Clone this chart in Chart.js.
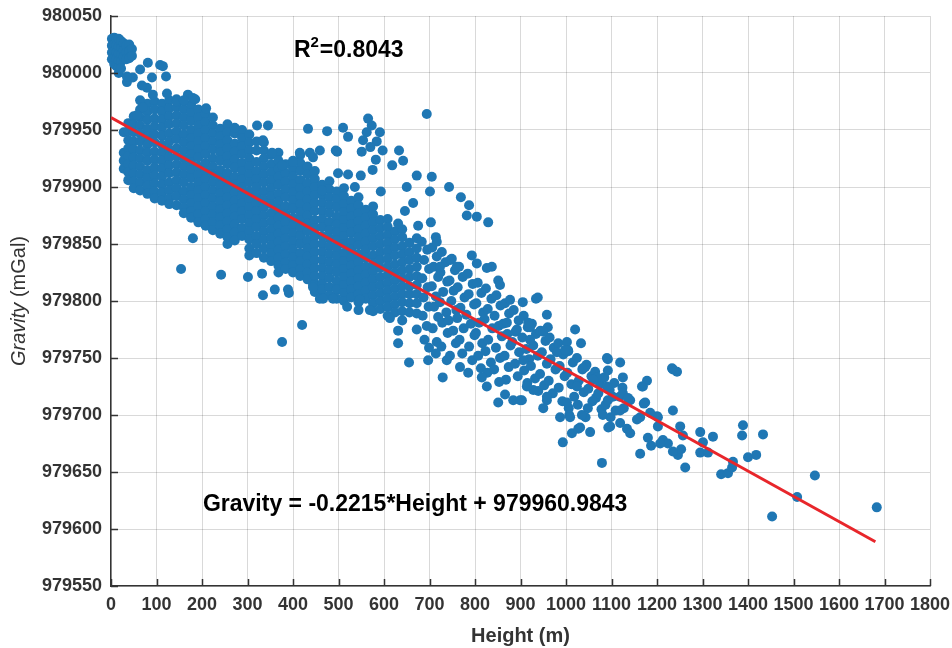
<!DOCTYPE html>
<html><head><meta charset="utf-8">
<style>html,body{margin:0;padding:0;background:#fff}#wrap{width:952px;height:648px}</style>
<script src="https://cdn.jsdelivr.net/npm/chart.js@4.4.0/dist/chart.umd.min.js"></script>
</head><body><div id="wrap"><canvas id="c" width="952" height="648"></canvas></div>
<script>
// ---- tick labels ----
const xTickValues = [0,100,200,300,400,500,600,700,800,900,1000,1100,1200,1300,1400,1500,1600,1700,1800];
const yTickValues = [979550,979600,979650,979700,979750,979800,979850,979900,979950,980000,980050];

// ---- texts ----
const xTitle = 'Height (m)';
const yTitleItalic = 'Gravity';
const yTitleRest = ' (mGal)';
const r2Text = '0.8043';
const equationText = 'Gravity = -0.2215*Height + 979960.9843';

// ---- fitted line (end points, Height m / Gravity mGal) ----
const fitLine = [[0, 979960.98], [1680, 979588.86]];

// ---- observed points: rows are [height, gravity, gravity, ...] ----
const topCluster = [
 [2,980030,980024,980018,980012],
 [7,980031,980025,980019,980013,980008],
 [12,980030,980024,980018,980012,980006],
 [17,980030,980023,980017,980011,980005,980000],
 [22,980028,980022,980016,980010,980004],
 [28,980026,980020,980014],
 [34,980024,980018,980012],
 [40,980025,980019,980013],
 [46,980021,980015]
];
const bandWest = [
 [28,979948,979930,979923,979916],
 [38,979956,979949,979941,979934,979927,979920,979913,979906],
 [50,979962,979955,979948,979940,979933,979926,979919,979912,979905,979899],
 [64,979968,979961,979954,979947,979940,979932,979925,979918,979911,979904,979897],
 [80,979973,979966,979959,979951,979944,979937,979930,979923,979915,979908,979901,979894],
 [96,979975,979968,979960,979953,979946,979939,979931,979924,979917,979910,979903,979896,979890],
 [112,979973,979966,979959,979952,979945,979937,979930,979923,979916,979909,979902,979895,979888],
 [128,979976,979969,979962,979955,979947,979940,979933,979926,979919,979912,979904,979897,979890,979885],
 [144,979977,979970,979963,979956,979949,979942,979934,979927,979920,979913,979906,979899,979892,979884],
 [160,979975,979968,979961,979954,979946,979939,979932,979925,979918,979911,979904,979896,979889,979882,979877],
 [176,979972,979965,979958,979950,979943,979936,979929,979922,979915,979908,979900,979893,979886,979879,979873],
 [192,979968,979961,979954,979947,979940,979933,979926,979918,979911,979904,979897,979890,979883,979876,979869]
];
const bandMid = [
 [208,979964,979957,979950,979943,979936,979929,979921,979914,979907,979900,979893,979886,979879,979872,979866],
 [224,979961,979954,979947,979940,979933,979925,979918,979911,979904,979897,979890,979883,979876,979869,979862],
 [240,979951,979944,979937,979930,979923,979915,979908,979901,979894,979887,979880,979873,979866,979859],
 [256,979955,979948,979941,979934,979927,979920,979912,979905,979898,979891,979884,979877,979870,979863,979856,979850],
 [272,979947,979938,979931,979924,979917,979909,979902,979895,979888,979881,979874,979867,979860,979853],
 [288,979950,979943,979936,979929,979921,979914,979907,979900,979893,979886,979879,979872,979864,979857],
 [304,979946,979939,979932,979925,979918,979911,979904,979896,979889,979882,979875,979868,979861,979854,979846,979840],
 [320,979940,979932,979922,979914,979907,979900,979893,979886,979879,979872,979865,979857,979850,979842],
 [336,979939,979932,979925,979918,979911,979904,979896,979889,979882,979875,979868,979861,979854,979846,979838],
 [352,979928,979920,979913,979906,979899,979892,979885,979877,979870,979863,979856,979849,979842,979835],
 [368,979930,979923,979916,979909,979902,979894,979887,979880,979873,979866,979859,979852,979845,979838,979831,979825],
 [384,979920,979912,979905,979898,979891,979883,979876,979869,979862,979855,979848,979841,979834,979828],
 [400,979923,979916,979909,979902,979895,979888,979881,979873,979866,979859,979852,979845,979838,979831,979825]
];
const bandEast = [
 [416,979928,979921,979914,979906,979899,979892,979885,979878,979871,979864,979857,979850,979842,979835,979828,979822],
 [432,979918,979911,979903,979896,979889,979882,979875,979868,979861,979853,979846,979839,979832,979825,979819],
 [448,979914,979907,979900,979893,979886,979879,979871,979864,979857,979850,979843,979836,979829,979822,979815,979808],
 [464,979902,979893,979886,979879,979872,979865,979857,979850,979843,979836,979829,979822,979815,979810],
 [480,979905,979898,979891,979884,979877,979869,979862,979855,979848,979841,979834,979827,979820,979812,979805],
 [496,979896,979889,979882,979874,979867,979860,979853,979846,979839,979832,979825,979817,979810,979802],
 [512,979899,979892,979885,979878,979871,979864,979857,979850,979842,979835,979828,979821,979814,979807,979800],
 [528,979888,979881,979874,979867,979860,979852,979845,979838,979831,979824,979817,979810,979803],
 [544,979891,979884,979877,979870,979863,979856,979849,979841,979834,979827,979820,979813,979806,979799,979792],
 [560,979880,979873,979866,979859,979852,979845,979838,979830,979823,979816,979809,979802],
 [576,979883,979876,979869,979862,979855,979848,979840,979833,979826,979819,979812,979805,979798,979791],
 [592,979871,979864,979857,979850,979843,979836,979829,979821,979814,979807,979800,979793],
 [608,979872,979865,979858,979851,979844,979837,979830,979823,979816,979809,979802,979795,979787],
 [624,979861,979854,979847,979840,979832,979825,979818,979811,979804,979797,979790],
 [640,979863,979856,979848,979841,979834,979827,979820,979813,979806,979799,979791,979783],
 [656,979851,979843,979836,979828,979821,979813,979806,979798,979790],
 [672,979855,979846,979838,979830,979822,979814,979806,979798,979789]
];
// ---- observed points: [height, gravity] pairs ----
const bandLow = [
 [683,979852],[695,979845],[688,979836],[699,979828],[684,979820],[696,979812],[687,979803],[698,979795],[685,979787],[694,979778],[689,979766],
 [706,979847],[716,979839],[709,979830],[719,979821],[705,979813],[714,979804],[710,979795],[719,979786],[707,979776],[716,979764],
 [727,979843],[735,979834],[724,979825],[739,979817],[730,979808],[723,979799],[737,979790],[728,979781],[740,979772],[726,979760],
 [746,979836],[756,979827],[744,979818],[753,979809],[748,979800],[759,979792],[742,979783],[752,979774],[758,979763],[745,979752],
 [765,979830],[773,979821],[762,979812],[777,979803],[768,979794],[761,979785],[775,979776],[766,979766],[772,979754],
 [784,979824],[795,979815],[786,979806],[798,979797],[781,979788],[791,979780],[799,979770],[787,979760],[794,979748],
 [806,979816],[814,979807],[803,979798],[818,979790],[809,979781],[802,979772],[816,979763],[807,979752],[813,979741],
 [824,979811],[836,979802],[828,979793],[821,979784],[838,979776],[829,979766],[823,979756],[835,979746],[827,979737],
 [847,979805],[856,979796],[843,979787],[852,979778],[859,979769],[846,979759],[855,979750],[842,979740],
 [866,979798],[875,979789],[862,979780],[871,979771],[878,979761],[865,979752],[874,979742],[868,979731],
 [885,979792],[896,979783],[889,979773],[882,979764],[897,979755],[888,979745],[894,979734],
 [907,979787],[916,979777],[904,979768],[913,979758],[919,979749],[908,979739],[915,979728],
 [925,979780],[934,979771],[928,979761],[938,979752],[923,979743],[932,979732],[939,979721],
 [944,979774],[955,979765],[947,979755],[958,979745],[943,979736],[952,979726],
 [964,979768],[973,979759],[966,979749],[977,979740],[962,979730],[971,979719],
 [983,979763],[994,979753],[986,979743],[997,979734],[984,979724],[992,979712],
 [1005,979756],[1015,979746],[1003,979737],[1012,979727],[1018,979716],[1006,979706],
 [1024,979750],[1036,979740],[1028,979730],[1039,979720],[1026,979709],
 [1045,979744],[1056,979734],[1049,979723],[1058,979712],[1043,979698],
 [1064,979738],[1075,979727],[1066,979715],[1078,979705],
 [1084,979733],[1096,979722],[1087,979709],[1098,979698],
 [1106,979728],[1118,979716],[1109,979704],[1124,979724],[1127,979706]
];
const upperScatter = [
 [35,979992],[48,979996],[35,979997],[64,980003],[81,980009],[108,980007],[114,980006],[121,979997],
 [90,979996],[79,979987],[92,979981],[68,979989],[64,979976],[70,979970],[57,979963],[123,979982],
 [169,979981],[180,979978],[185,979977],[209,979969],[145,979975],[160,979976]
];
const midScatter = [
 [272,979952],[321,979954],[345,979954],[433,979951],[475,979949],[510,979952],[521,979944],[497,979931],
 [499,979912],[521,979911],[464,979897],[415,979930],[437,979930],[400,979922],[376,979919],[354,979930],
 [334,979941],[444,979926],[459,979932],[494,979932],[549,979910],[536,979900],[593,979896],
 [565,979960],[573,979954],[591,979948],[562,979948],[554,979941],[584,979940],[597,979932],[551,979931],
 [582,979924],[570,979935],[575,979915],[633,979932],[618,979919],[642,979923],[694,979964],
 [650,979900],[672,979910],[705,979909],[701,979896],[664,979886],[646,979879],[743,979900],[769,979891],
 [787,979884],[782,979875],[804,979874],[829,979869],
 [631,979868],[675,979866],[703,979869],[714,979856],[716,979852],[749,979837],[793,979840],[804,979833],
 [837,979830],[826,979829],[760,979830],[723,979830],[851,979818],[855,979814],[877,979801],[905,979799],
 [934,979802],[938,979803],[958,979788],[960,979777],[1020,979775],[870,979781],[892,979775],[921,979777],
 [921,979766],[917,979781],[950,979773],[1033,979763],[1002,979764],[980,979755],[1004,979757],[998,979757]
];
const lowerScatter = [
 [180,979855],[154,979828],[242,979823],[301,979821],[332,979824],[334,979805],[360,979810],[389,979810],
 [391,979807],[420,979779],[376,979764],[444,979814],[459,979802],
 [444,979812],[466,979802],[488,979802],[519,979795],[569,979792],[547,979801],[613,979785],[631,979774],
 [631,979763],[655,979746],[697,979748],[714,979754],[729,979733],[738,979748],[767,979742],[785,979737],
 [815,979733],[826,979725],[853,979729],[851,979711],[884,979713],[899,979713],[866,979718],[928,979722],
 [958,979713],[950,979706],[1002,979711],[1007,979700],[987,979698],[906,979748],[914,979725],[903,979713],
 [958,979716],[699,979759],[672,979775]
];
const tailPoints = [
 [1092,979749],[1119,979746],[1125,979733],[1092,979739],[1068,979733],[1042,979742],[1090,979725],[1103,979716],
 [1141,979713],[1169,979725],[1178,979730],[1235,979740],[1244,979738],[1171,979710],[1235,979704],[1200,979699],
 [1202,979690],[1251,979690],[1257,979682],[1295,979685],[1323,979681],[1389,979691],[1387,979682],[1433,979683],
 [1301,979676],[1213,979678],[1224,979675],[1207,979675],[1187,979673],[1180,979680],[1163,979666],[1246,979665],
 [1253,979670],[1235,979668],[1295,979667],[1312,979667],[1262,979654],[1079,979658],[1341,979648],[1356,979649],
 [1365,979654],[1367,979659],[1400,979663],[1418,979665],[1453,979611],[1508,979628],[1547,979647],[1683,979619],
 [993,979676],[1013,979684],[1027,979688],[1031,979689],[1053,979685],[1093,979689],[1119,979693],[1134,979688],
 [1141,979684],[1163,979698],[1202,979698],[1048,979706],[1009,979698],[1035,979700],[1081,979700],[1097,979690],
 [1092,979713],[1125,979719],[1136,979715],[1156,979696],[1174,979711],[1185,979702],[1119,979704],[1167,979725],
 [1037,979741],[1024,979725],[1060,979731],[1071,979719],[1090,979750],[1233,979741]
];

// ---- build Chart.js data ----
function fromRows(rows){const out=[];rows.forEach(r=>{for(let i=1;i<r.length;i++)out.push({x:r[0],y:r[i]});});return out;}
function fromPairs(a){return a.map(p=>({x:p[0],y:p[1]}));}
const observed = [].concat(
  fromRows(topCluster),fromRows(bandWest),fromRows(bandMid),fromRows(bandEast),fromPairs(bandLow),
  fromPairs(upperScatter),fromPairs(midScatter),fromPairs(lowerScatter),fromPairs(tailPoints));

const FONT = '"Liberation Sans", Arial, Helvetica, sans-serif';
const TXT = '#333333';

const decorPlugin = {
  id:'decor',
  afterDraw(chart){
    const ctx=chart.ctx, a=chart.chartArea, xs=chart.scales.x, ys=chart.scales.y;
    ctx.save();
    ctx.strokeStyle=TXT; ctx.lineWidth=1.5;
    ctx.beginPath();
    xTickValues.forEach(v=>{const p=Math.round(xs.getPixelForValue(v))+0.5;ctx.moveTo(p,a.bottom);ctx.lineTo(p,a.bottom-7);});
    yTickValues.forEach(v=>{const p=Math.round(ys.getPixelForValue(v))+0.5;ctx.moveTo(a.left,p);ctx.lineTo(a.left+7,p);});
    ctx.stroke();
    ctx.fillStyle=TXT; ctx.textBaseline='middle';
    ctx.translate(19,(a.top+a.bottom)/2);
    ctx.rotate(-Math.PI/2);
    ctx.font='italic 20px '+FONT; const w1=ctx.measureText(yTitleItalic).width;
    ctx.font='20px '+FONT; const w2=ctx.measureText(yTitleRest).width;
    let sx=-(w1+w2)/2;
    ctx.textAlign='left';
    ctx.font='italic 20px '+FONT; ctx.fillText(yTitleItalic,sx,0);
    ctx.font='20px '+FONT; ctx.fillText(yTitleRest,sx+w1,0);
    ctx.restore();
    ctx.save();
    ctx.fillStyle='#000'; ctx.textAlign='left'; ctx.textBaseline='alphabetic';
    let rx=xs.getPixelForValue(402), ry=ys.getPixelForValue(980014);
    ctx.font='bold 23px '+FONT; ctx.fillText('R',rx,ry); rx+=ctx.measureText('R').width;
    ctx.font='bold 15px '+FONT; ctx.fillText('2',rx,ry-10); rx+=ctx.measureText('2').width+1;
    ctx.font='bold 23px '+FONT; ctx.fillText('='+r2Text,rx,ry);
    const ex=xs.getPixelForValue(202), ey=ys.getPixelForValue(979616);
    ctx.fillText(equationText,ex,ey);
    ctx.restore();
  }
};

new Chart(document.getElementById('c'),{
  type:'scatter',
  data:{datasets:[
    {label:'fit',data:fromPairs(fitLine),showLine:true,borderColor:'#e8262b',borderWidth:3,pointRadius:0,fill:false},
    {label:'obs',data:observed,backgroundColor:'#1f77b4',borderWidth:0,pointRadius:5,pointHoverRadius:5,clip:false}
  ]},
  options:{
    responsive:false,animation:false,devicePixelRatio:1,
    layout:{padding:{top:16,right:22,left:0,bottom:0}},
    plugins:{legend:{display:false},tooltip:{enabled:false}},
    scales:{
      x:{type:'linear',min:0,max:1800,
        afterBuildTicks(s){s.ticks=xTickValues.map(v=>({value:v}));},
        afterFit(s){s.height=62;s.paddingLeft=0;s.paddingRight=0;},
        ticks:{autoSkip:false,maxRotation:0,padding:8,color:TXT,font:{family:FONT,size:18,weight:'bold'},callback:v=>String(v)},
        grid:{color:'rgba(0,0,0,0.15)',lineWidth:1,drawTicks:false},
        border:{display:true,color:TXT,width:1.5},
        title:{display:true,text:xTitle,color:TXT,font:{family:FONT,size:20,weight:'bold'},padding:{top:2,bottom:0}}
      },
      y:{type:'linear',min:979550,max:980050,
        afterBuildTicks(s){s.ticks=yTickValues.map(v=>({value:v}));},
        afterFit(s){s.width=111;s.paddingTop=0;s.paddingBottom=0;},
        ticks:{autoSkip:false,padding:9,color:TXT,font:{family:FONT,size:18,weight:'bold'},callback:v=>String(v)},
        grid:{color:'rgba(0,0,0,0.15)',lineWidth:1,drawTicks:false},
        border:{display:true,color:TXT,width:1.5}
      }
    }
  },
  plugins:[decorPlugin]
});
</script></body></html>
